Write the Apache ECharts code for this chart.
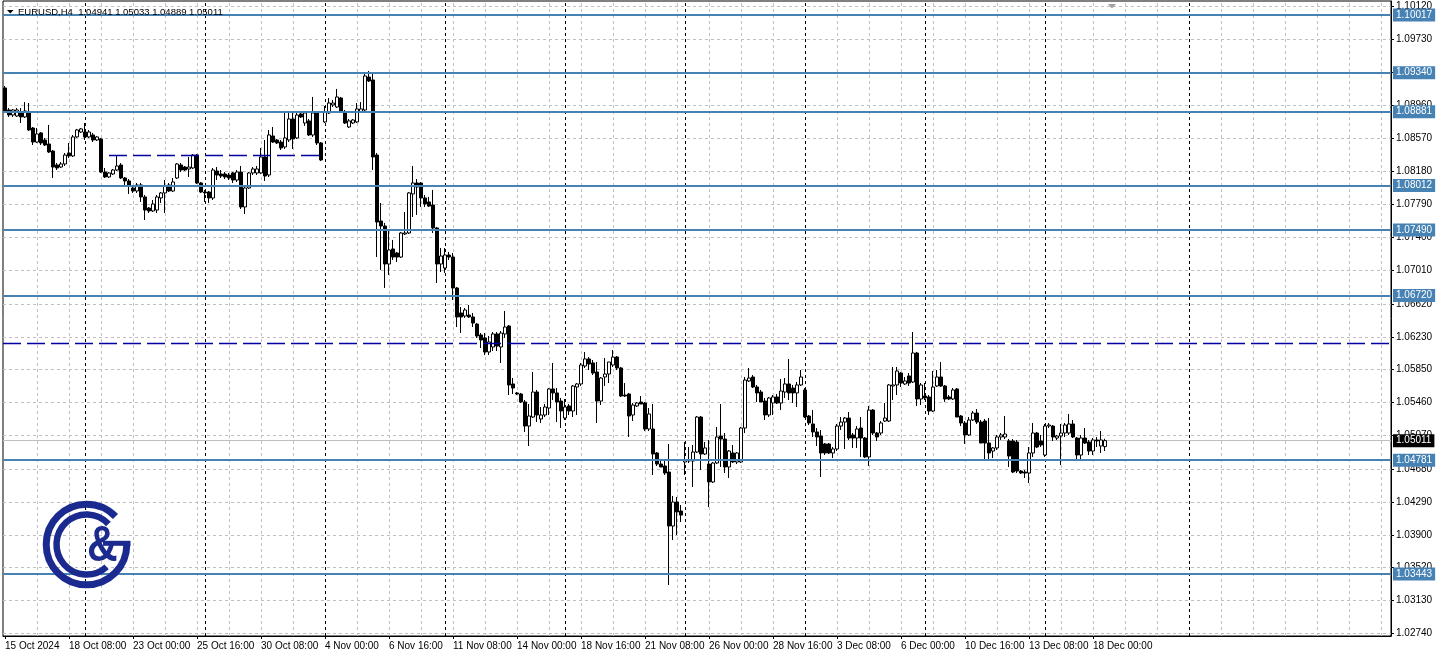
<!DOCTYPE html>
<html><head><meta charset="utf-8">
<script src="https://cdn.jsdelivr.net/npm/echarts@6/dist/echarts.min.js"></script>
<style>html,body{margin:0;padding:0;background:#fff;overflow:hidden}#c{width:1438px;height:658px}</style>
</head><body><div id="c"></div>
<script>
const symbolName = 'EURUSD,H4';
const open = [
1.09160,1.08901,1.08842,1.08830,1.08877,1.08819,1.08877,1.08689,1.08524,1.08631,
1.08548,1.08501,1.08418,1.08254,1.08230,1.08266,1.08395,1.08360,1.08584,1.08642,
1.08642,1.08584,1.08607,1.08548,1.08560,1.08171,1.08113,1.08148,1.08195,1.08254,
1.08101,1.08066,1.07983,1.07948,1.08019,1.07878,1.07748,1.07713,1.07724,1.07866,
1.07925,1.08019,1.07948,1.08101,1.08254,1.08230,1.08207,1.08219,1.08371,1.08042,
1.07936,1.07936,1.07866,1.08183,1.08148,1.08148,1.08136,1.08160,1.08077,1.08171,
1.07760,1.07983,1.08160,1.08160,1.08160,1.08348,1.08136,1.08595,1.08548,1.08524,
1.08466,1.08548,1.08795,1.08572,1.08854,1.08748,1.08772,1.08607,1.08866,1.08513,
1.08760,1.08866,1.08960,1.08936,1.09042,1.08877,1.08701,1.08748,1.08760,1.08877,
1.08901,1.09289,1.09254,1.08371,1.07595,1.07536,1.07089,1.07266,1.07219,1.07171,
1.07442,1.07454,1.07913,1.08042,1.08042,1.07866,1.07819,1.07783,1.07513,1.07089,
1.07042,1.07195,1.07171,1.06807,1.06513,1.06477,1.06489,1.06466,1.06383,1.06254,
1.06219,1.06054,1.06113,1.06266,1.06113,1.06266,1.06360,1.05678,1.05572,1.05560,
1.05466,1.05183,1.05289,1.05583,1.05266,1.05313,1.05395,1.05619,1.05572,1.05477,
1.05277,1.05419,1.05360,1.05642,1.05678,1.05889,1.05972,1.05925,1.05819,1.05477,
1.05760,1.05795,1.05901,1.05995,1.05866,1.05548,1.05560,1.05313,1.05419,1.05466,
1.05454,1.05148,1.05148,1.04866,1.04736,1.04713,1.04642,1.04007,1.04289,1.04183,
1.04760,1.04772,1.04772,1.04877,1.05289,1.04854,1.04736,1.04525,1.04748,1.05066,
1.05030,1.04701,1.04866,1.04760,1.04760,1.05160,1.05713,1.05760,1.05642,1.05583,
1.05477,1.05313,1.05454,1.05525,1.05454,1.05583,1.05678,1.05630,1.05572,1.05666,
1.05607,1.05301,1.05207,1.05113,1.05066,1.04972,1.04972,1.04866,1.04913,1.05183,
1.05230,1.05277,1.05078,1.05042,1.05160,1.05042,1.04819,1.05371,1.05101,1.05101,
1.05242,1.05242,1.05654,1.05666,1.05807,1.05678,1.05772,1.05701,1.06042,1.05501,
1.05536,1.05525,1.05360,1.05654,1.05760,1.05654,1.05525,1.05501,1.05619,1.05301,
1.05219,1.05078,1.05254,1.05336,1.05230,1.05242,1.04983,1.04889,1.04925,1.05054,
1.05054,1.05007,1.05007,1.04995,1.04654,1.04642,1.04630,1.04866,1.05101,1.05007,
1.04842,1.05183,1.05183,1.05042,1.05066,1.05101,1.05101,1.05207,1.05042,1.04842,
1.05042,1.04995,1.04889,1.05019,1.04948,1.04941];
const high = [
1.09183,1.08924,1.08912,1.08924,1.08924,1.08994,1.08983,1.08701,1.08689,1.08642,
1.08572,1.08725,1.08430,1.08277,1.08289,1.08395,1.08513,1.08607,1.08678,1.08689,
1.08748,1.08666,1.08631,1.08595,1.08572,1.08219,1.08171,1.08207,1.08371,1.08277,
1.08113,1.08089,1.08019,1.08042,1.08042,1.07901,1.07760,1.07842,1.07901,1.07936,
1.08077,1.08042,1.08101,1.08277,1.08277,1.08242,1.08348,1.08383,1.08383,1.08054,
1.07960,1.07948,1.08219,1.08230,1.08195,1.08171,1.08160,1.08171,1.08195,1.08242,
1.07995,1.08171,1.08230,1.08242,1.08454,1.08548,1.08666,1.08701,1.08560,1.08548,
1.08866,1.08866,1.08866,1.08866,1.08877,1.08877,1.08795,1.09054,1.08877,1.08524,
1.08948,1.09042,1.09018,1.09148,1.09054,1.08901,1.08795,1.08795,1.08983,1.08994,
1.09348,1.09360,1.09348,1.08395,1.07807,1.07572,1.07489,1.07372,1.07231,1.07466,
1.07701,1.07936,1.08242,1.08089,1.08054,1.07901,1.07878,1.07960,1.07525,1.07277,
1.07277,1.07231,1.07219,1.06819,1.06583,1.06572,1.06607,1.06513,1.06395,1.06277,
1.06277,1.06242,1.06289,1.06289,1.06301,1.06536,1.06372,1.05748,1.05583,1.05572,
1.05489,1.05442,1.05819,1.05607,1.05407,1.05442,1.05630,1.05925,1.05630,1.05513,
1.05501,1.05442,1.05666,1.05689,1.05925,1.06054,1.05995,1.05960,1.05936,1.05760,
1.05983,1.05936,1.06077,1.06007,1.05878,1.05689,1.05572,1.05454,1.05466,1.05536,
1.05466,1.05395,1.05442,1.04877,1.04772,1.04783,1.04972,1.04360,1.04348,1.04254,
1.04995,1.04936,1.04960,1.05301,1.05301,1.04995,1.05019,1.04760,1.05172,1.05442,
1.05101,1.04901,1.04960,1.04877,1.05172,1.05760,1.05866,1.05783,1.05666,1.05607,
1.05513,1.05525,1.05548,1.05560,1.05736,1.05748,1.05972,1.05666,1.05701,1.05842,
1.05630,1.05313,1.05371,1.05160,1.05136,1.04983,1.04983,1.04936,1.05207,1.05289,
1.05289,1.05348,1.05101,1.05183,1.05289,1.05054,1.05419,1.05383,1.05113,1.05242,
1.05454,1.05678,1.05878,1.05878,1.05819,1.05760,1.05807,1.06289,1.06054,1.05689,
1.05689,1.05548,1.05830,1.05842,1.05936,1.05666,1.05548,1.05630,1.05630,1.05313,
1.05242,1.05289,1.05360,1.05383,1.05254,1.05266,1.05277,1.04936,1.05078,1.05101,
1.05301,1.05030,1.05030,1.05019,1.04666,1.04666,1.04936,1.05219,1.05113,1.05078,
1.05207,1.05219,1.05195,1.05078,1.05207,1.05219,1.05325,1.05254,1.05054,1.05078,
1.05160,1.05019,1.05042,1.05054,1.05125,1.05033];
const low = [
1.08866,1.08819,1.08819,1.08819,1.08748,1.08807,1.08654,1.08489,1.08513,1.08489,
1.08477,1.08395,1.08101,1.08195,1.08219,1.08242,1.08336,1.08348,1.08572,1.08631,
1.08548,1.08572,1.08524,1.08536,1.08160,1.08101,1.08101,1.08136,1.08183,1.08089,
1.08007,1.07913,1.07925,1.07925,1.07819,1.07607,1.07689,1.07701,1.07689,1.07807,
1.07689,1.07936,1.07936,1.08089,1.08171,1.08183,1.08113,1.08207,1.08030,1.07925,
1.07819,1.07807,1.07842,1.08077,1.08101,1.08089,1.08077,1.08042,1.08054,1.07736,
1.07677,1.07972,1.08136,1.08136,1.08148,1.08066,1.08113,1.08513,1.08501,1.08430,
1.08442,1.08524,1.08442,1.08560,1.08807,1.08713,1.08595,1.08584,1.08489,1.08301,
1.08748,1.08854,1.08936,1.08924,1.08866,1.08736,1.08689,1.08736,1.08748,1.08866,
1.08877,1.09230,1.08195,1.07171,1.07019,1.06807,1.06960,1.07136,1.07113,1.07160,
1.07430,1.07442,1.07642,1.07666,1.07760,1.07760,1.07760,1.07454,1.06866,1.06995,
1.06984,1.07136,1.06666,1.06348,1.06278,1.06454,1.06454,1.06348,1.06219,1.06101,
1.06018,1.06018,1.06066,1.06066,1.05925,1.06219,1.05548,1.05560,1.05548,1.05454,
1.05113,1.04948,1.05277,1.05230,1.05219,1.05289,1.05313,1.05489,1.05230,1.05160,
1.05254,1.05313,1.05289,1.05313,1.05654,1.05866,1.05842,1.05783,1.05219,1.05430,
1.05654,1.05689,1.05878,1.05842,1.05525,1.05525,1.05054,1.05242,1.05407,1.05442,
1.05124,1.05124,1.04607,1.04713,1.04701,1.04607,1.03313,1.03842,1.03901,1.04054,
1.04607,1.04748,1.04466,1.04866,1.04666,1.04842,1.04230,1.04513,1.04736,1.04701,
1.04630,1.04572,1.04748,1.04736,1.04748,1.05101,1.05701,1.05630,1.05466,1.05466,
1.05254,1.05289,1.05313,1.05442,1.05371,1.05513,1.05489,1.05454,1.05407,1.05654,
1.05277,1.05195,1.05054,1.04948,1.04583,1.04842,1.04854,1.04807,1.04889,1.05136,
1.04913,1.05019,1.04924,1.04924,1.04819,1.04807,1.04713,1.05078,1.05007,1.05078,
1.05230,1.05230,1.05489,1.05548,1.05642,1.05666,1.05654,1.05689,1.05419,1.05430,
1.05489,1.05313,1.05348,1.05642,1.05642,1.05466,1.05489,1.05489,1.05289,1.05183,
1.04972,1.05066,1.05242,1.05207,1.04983,1.04783,1.04783,1.04807,1.04901,1.05019,
1.05030,1.04701,1.04630,1.04630,1.04619,1.04572,1.04513,1.04819,1.04924,1.04936,
1.04819,1.05160,1.05007,1.05019,1.04724,1.05054,1.05078,1.05042,1.04783,1.04783,
1.04972,1.04842,1.04842,1.04936,1.04866,1.04889];
const close = [
1.08877,1.08842,1.08901,1.08901,1.08819,1.08889,1.08666,1.08524,1.08619,1.08513,
1.08489,1.08407,1.08230,1.08219,1.08266,1.08371,1.08360,1.08584,1.08666,1.08678,
1.08584,1.08642,1.08548,1.08584,1.08171,1.08113,1.08160,1.08195,1.08242,1.08101,
1.08066,1.08007,1.07948,1.08019,1.07878,1.07724,1.07713,1.07795,1.07878,1.07925,
1.08007,1.07948,1.08054,1.08266,1.08195,1.08195,1.08230,1.08371,1.08042,1.07936,
1.07925,1.07866,1.08195,1.08136,1.08124,1.08113,1.08101,1.08077,1.08171,1.07760,
1.07983,1.08160,1.08207,1.08207,1.08348,1.08124,1.08607,1.08524,1.08513,1.08454,
1.08572,1.08795,1.08560,1.08842,1.08819,1.08866,1.08607,1.08866,1.08513,1.08313,
1.08877,1.08983,1.08983,1.09054,1.08877,1.08748,1.08772,1.08783,1.08913,1.08913,
1.09301,1.09242,1.08348,1.07583,1.07536,1.07089,1.07254,1.07171,1.07171,1.07454,
1.07454,1.07925,1.08042,1.07995,1.07866,1.07795,1.07771,1.07513,1.07089,1.07183,
1.07195,1.07171,1.06807,1.06466,1.06466,1.06548,1.06466,1.06395,1.06242,1.06195,
1.06054,1.06172,1.06266,1.06124,1.06277,1.06348,1.05666,1.05630,1.05560,1.05466,
1.05183,1.05301,1.05583,1.05313,1.05313,1.05407,1.05619,1.05572,1.05466,1.05360,
1.05407,1.05360,1.05654,1.05678,1.05901,1.05972,1.05913,1.05807,1.05477,1.05748,
1.05795,1.05936,1.05995,1.05866,1.05536,1.05536,1.05301,1.05430,1.05454,1.05442,
1.05148,1.05325,1.04854,1.04736,1.04701,1.04630,1.04007,1.04289,1.04172,1.04136,
1.04783,1.04783,1.04877,1.05289,1.04854,1.04925,1.04525,1.04748,1.05054,1.05030,
1.04701,1.04889,1.04760,1.04866,1.05160,1.05724,1.05748,1.05642,1.05572,1.05466,
1.05313,1.05513,1.05525,1.05454,1.05595,1.05678,1.05572,1.05572,1.05666,1.05760,
1.05289,1.05219,1.05113,1.05054,1.04866,1.04866,1.04866,1.04913,1.05183,1.05230,
1.05277,1.05042,1.05042,1.05148,1.05042,1.04819,1.05371,1.05101,1.05054,1.05219,
1.05277,1.05666,1.05666,1.05830,1.05689,1.05713,1.05689,1.06042,1.05501,1.05666,
1.05513,1.05360,1.05642,1.05760,1.05654,1.05501,1.05501,1.05607,1.05289,1.05219,
1.05078,1.05254,1.05336,1.05230,1.04983,1.04983,1.04866,1.04925,1.05054,1.05078,
1.05089,1.04830,1.04642,1.04654,1.04630,1.04630,1.04866,1.05101,1.04936,1.04960,
1.05183,1.05195,1.05054,1.05066,1.05101,1.05195,1.05207,1.05054,1.04842,1.05042,
1.04983,1.04889,1.05019,1.05007,1.05019,1.05011];

const slotCount = 347;              // bar slots visible incl. empty future area
const tickStep = 16;                // bars between time labels
const tickLabels = ['15 Oct 2024','18 Oct 08:00','23 Oct 00:00','25 Oct 16:00','30 Oct 08:00','4 Nov 00:00',
  '6 Nov 16:00','11 Nov 08:00','14 Nov 00:00','18 Nov 16:00','21 Nov 08:00','26 Nov 00:00','28 Nov 16:00',
  '3 Dec 08:00','6 Dec 00:00','10 Dec 16:00','13 Dec 08:00','18 Dec 00:00'];
const gridStep = 8;
const separators = [20, 50, 80, 110, 140, 170, 200, 230, 260, 296];
const priceTicks = [1.02740,1.03130,1.03520,1.03900,1.04290,1.04680,1.05070,1.05460,1.05850,1.06230,
  1.06620,1.07010,1.07400,1.07790,1.08180,1.08570,1.08960,1.09340,1.09730,1.10120];
const levels = [1.10017, 1.09340, 1.08881, 1.08012, 1.07490, 1.06720, 1.04781, 1.03443];
const bidPrice = 1.05011;
const dashedLevel = 1.06160;
const trendFrom = 26, trendTo = 79, trendPrice = 1.08371;
const yMin = 1.02713, yMax = 1.10183;

const FONT = '"Liberation Sans", Arial, sans-serif';
const cats = Array.from({length: slotCount}, (_, i) => String(i));
const candles = open.map((o, i) => [o, close[i], low[i], high[i]]);
const showTick = (i) => i % tickStep === 0 && i / tickStep < tickLabels.length;

const gridLines = [];
for (let i = gridStep; i < slotCount; i += gridStep) gridLines.push({xAxis: String(i)});
priceTicks.forEach(v => gridLines.push({yAxis: v}));
gridLines.push({yAxis: bidPrice, lineStyle: {color: '#c0c0c0', type: 'solid', width: 1},
  label: {show: true, position: 'end', distance: 2, formatter: bidPrice.toFixed(5), backgroundColor: '#000',
    color: '#fff', padding: [2, 3, 1, 3], fontSize: 10, fontFamily: FONT}});
separators.forEach(i => gridLines.push({xAxis: String(i), lineStyle: {color: '#000', type: [3, 3], width: 1}}));

const navyLine = {color: '#0000a0', width: 1.3, type: [18, 6]};
const levelLines = levels.map(v => ({
  yAxis: v, lineStyle: {color: '#4682B4', width: 2, type: 'solid'},
  label: {show: true, position: 'end', distance: 2, formatter: v.toFixed(5), backgroundColor: '#4682B4',
    color: '#fff', padding: [2, 3, 1, 3], fontSize: 10, fontFamily: FONT}
}));
levelLines.push({yAxis: dashedLevel, lineStyle: navyLine});
levelLines.push([{coord: [String(trendFrom), trendPrice], lineStyle: navyLine},
                 {coord: [String(trendTo), trendPrice]}]);

const navy = '#1b2a8e';
const cx = 86.5, cy = 544.5;
const deg = Math.PI / 180;

const chart = echarts.init(document.getElementById('c'), null, {renderer: 'canvas'});
chart.setOption({
  animation: false,
  backgroundColor: '#fff',
  grid: {left: 3, right: 47, top: 1, bottom: 22, show: true, borderColor: '#000', borderWidth: 1, backgroundColor: 'transparent'},
  xAxis: {
    type: 'category', data: cats, boundaryGap: true,
    axisLine: {show: true, lineStyle: {color: '#000', width: 1}},
    axisTick: {show: true, alignWithLabel: true, interval: (i) => showTick(i), length: 3, lineStyle: {color: '#000'}},
    axisLabel: {interval: (i) => showTick(i), formatter: (v) => tickLabels[Number(v) / tickStep] || '',
      align: 'left', margin: 5, fontSize: 10, fontFamily: FONT, color: '#000', hideOverlap: false},
    splitLine: {show: false}
  },
  yAxis: {
    type: 'value', position: 'right', min: yMin, max: yMax, scale: true,
    axisLine: {show: true, lineStyle: {color: '#000', width: 1}},
    axisTick: {show: true, customValues: priceTicks, length: 3, lineStyle: {color: '#000'}},
    axisLabel: {customValues: priceTicks, formatter: (v) => v.toFixed(5), margin: 5, fontSize: 10, fontFamily: FONT, color: '#000'},
    splitLine: {show: false}
  },
  series: [
    {type: 'line', data: [], silent: true, z: 1,
      markLine: {silent: true, z: 1, precision: 6, animation: false, symbol: ['none', 'none'], label: {show: false},
        emphasis: {disabled: true},
        lineStyle: {color: '#c0c0c0', type: [3, 3], width: 1}, data: gridLines}},
    {type: 'candlestick', data: candles, z: 3, barWidth: 3, silent: true,
      itemStyle: {color: '#fff', color0: '#000', borderColor: '#000', borderColor0: '#000', borderColorDoji: '#000', borderWidth: 1}},
    {type: 'line', data: [], silent: true, z: 5,
      markLine: {silent: true, z: 5, precision: 6, animation: false, symbol: ['none', 'none'], label: {show: false},
        emphasis: {disabled: true}, data: levelLines}}
  ],
  graphic: [
    {type: 'polygon', z: 20, shape: {points: [[7, 10], [13.5, 10], [10.25, 13.5]]}, style: {fill: '#000'}},
    {type: 'text', z: 20, x: 18, y: 12, style: {text: symbolName + '  ' + [open[open.length-1], high[high.length-1], low[low.length-1], close[close.length-1]].map(v => v.toFixed(5)).join(' '),
      font: '9.5px ' + FONT, fill: '#000', textAlign: 'left', textVerticalAlign: 'middle', align: 'left', verticalAlign: 'middle'}},
    {type: 'polygon', z: 20, shape: {points: [[1108, 4], [1116, 4], [1112, 8.5]]}, style: {fill: '#a0a0a0'}},
    {type: 'arc', z: 20, shape: {cx: cx, cy: cy, r: 40.3, startAngle: 0, endAngle: 316 * deg, clockwise: true},
      style: {stroke: navy, lineWidth: 7, fill: 'none'}},
    {type: 'line', z: 20, shape: {x1: 103, y1: 543.3, x2: 130.5, y2: 543.3}, style: {stroke: navy, lineWidth: 5}},
    {type: 'arc', z: 20, shape: {cx: cx, cy: cy, r: 30, startAngle: 48 * deg, endAngle: 317 * deg, clockwise: true},
      style: {stroke: navy, lineWidth: 6.5, fill: 'none'}},
    {type: 'text', z: 20, x: 89, y: 547, scaleX: 0.85, originX: 89, originY: 547,
      style: {text: '&', font: 'bold 50px ' + FONT, fill: navy, textAlign: 'center', textVerticalAlign: 'middle', align: 'center', verticalAlign: 'middle'}}
  ]
});
</script>
</body></html>
